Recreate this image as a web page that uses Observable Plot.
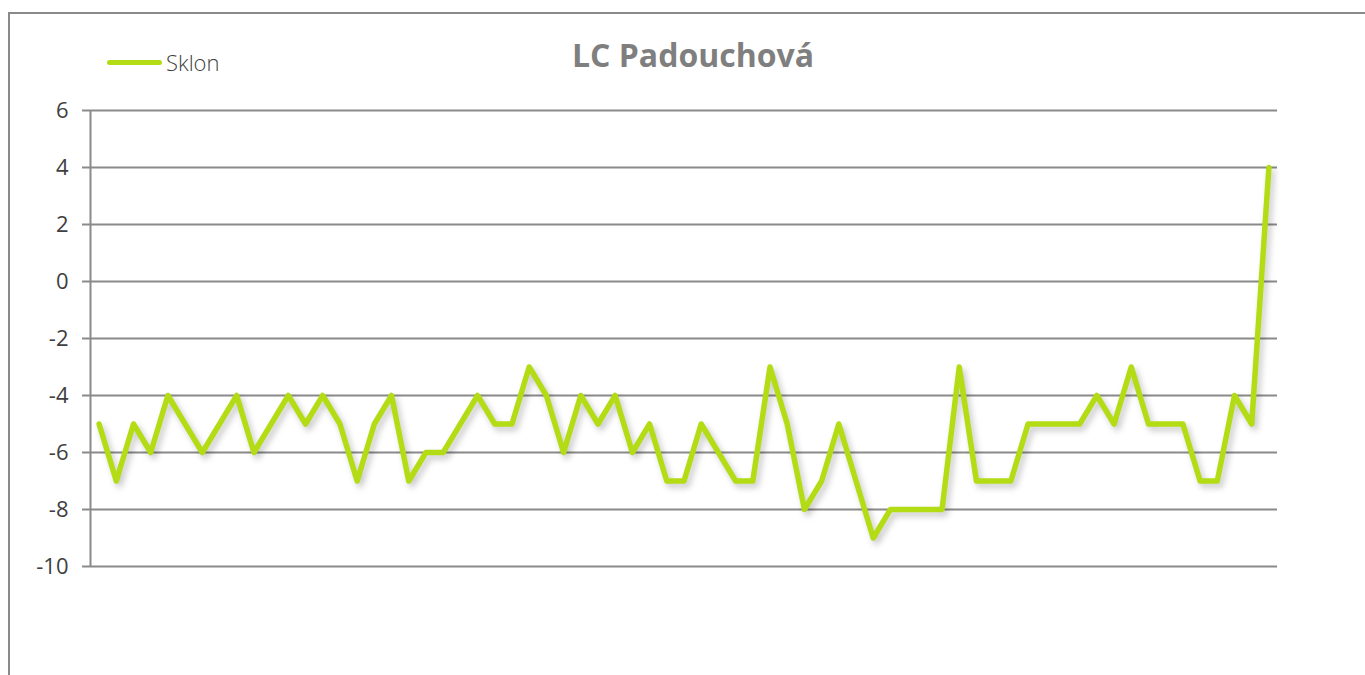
<!DOCTYPE html>
<html>
<head>
<meta charset="utf-8">
<script src="https://cdn.jsdelivr.net/npm/d3@7"></script>
<script src="https://cdn.jsdelivr.net/npm/@observablehq/plot@0.6"></script>
<style>
  html, body { margin: 0; padding: 0; background: #fff; }
  #wrap { position: relative; width: 1365px; height: 675px; overflow: hidden; font-family: "Open Sans", sans-serif; }
  #frame { position: absolute; left: 8px; top: 12px; width: 1400px; height: 700px; border-top: 2px solid #8a8a8a; border-left: 2px solid #8a8a8a; box-sizing: border-box; }
  #title { position: absolute; left: 0; width: 1386px; top: 33px; text-align: center; font-weight: 700; font-size: 32px; color: #7f7f7f; line-height: 44px; }
  #legend { position: absolute; left: 107px; top: 46px; display: flex; align-items: center; font-size: 22px; color: #404040; font-weight: 300; line-height: 32px; }
  #legend .sw { width: 55px; height: 5px; border-radius: 3px; background: #b4dc14; margin-right: 4px; }
  #chart { position: absolute; left: 0; top: 0; }
</style>
</head>
<body>
<div id="wrap">
  <div id="frame"></div>
  <div id="chart"></div>
  <div id="title">LC Padouchová</div>
  <div id="legend"><span class="sw"></span><span>Sklon</span></div>
</div>
<script>
const seriesName = "Sklon";
const sklon = [
  -5, -7, -5, -6, -4, -5, -6, -5, -4, -6,
  -5, -4, -5, -4, -5, -7, -5, -4, -7, -6,
  -6, -5, -4, -5, -5, -3, -4, -6, -4, -5,
  -4, -6, -5, -7, -7, -5, -6, -7, -7, -3,
  -5, -8, -7, -5, -7, -9, -8, -8, -8, -8,
  -3, -7, -7, -7, -5, -5, -5, -5, -4, -5,
  -3, -5, -5, -5, -7, -7, -4, -5, 4
];
const yTicks = [-10, -8, -6, -4, -2, 0, 2, 4, 6];
const points = sklon.map((v, i) => ({i, v}));

const chart = Plot.plot({
  width: 1365,
  height: 675,
  marginLeft: 90,
  marginRight: 88,
  marginTop: 110,
  marginBottom: 109,
  style: {fontFamily: "'Open Sans', sans-serif", fontSize: "22px", color: "#404040", background: "transparent"},
  x: {type: "linear", domain: [-0.5, sklon.length - 0.5], axis: null},
  y: {domain: [-10, 6], ticks: yTicks, axis: null},
  marks: [
    Plot.gridY(yTicks, {stroke: "#8a8a8a", strokeOpacity: 1, strokeWidth: 2}),
    Plot.axisY(yTicks, {tickSize: 8, tickPadding: 14, stroke: "#8a8a8a", strokeWidth: 2, fill: "#404040", label: null, fontWeight: 400, fontSize: 22, tickFormat: d => String(d)}),
    Plot.ruleX([-0.5], {y1: -10, y2: 6, stroke: "#8a8a8a", strokeWidth: 2}),
    Plot.lineY(points, {x: "i", y: "v", stroke: "#b4dc14", strokeWidth: 5.5, strokeLinejoin: "round", strokeLinecap: "round"})
  ]
});
document.getElementById("chart").appendChild(chart);
d3.select(chart).selectAll('g[aria-label="line"]').style("filter", "drop-shadow(3px 4px 3px rgba(0,0,0,0.22))");
</script>
</body>
</html>
